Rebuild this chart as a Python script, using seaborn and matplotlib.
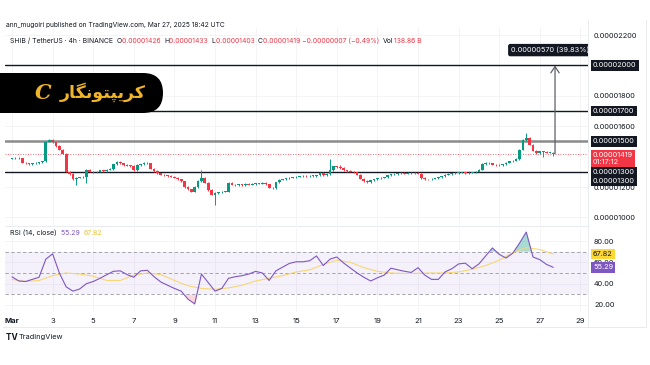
import matplotlib
matplotlib.use('Agg')
import matplotlib.pyplot as plt
import matplotlib.dates as mdates
from matplotlib.patches import FancyBboxPatch
from matplotlib.transforms import IdentityTransform
import seaborn as sns
import pandas as pd
import numpy as np

# SHIB / USDT, 4h candles from Mar 1 00:00, prices in units of 1e-8 USDT
closes = [
    1390, 1392, 1388, 1360, 1355, 1352,
    1356, 1358, 1362, 1370, 1498, 1510,
    1495, 1470, 1445, 1420, 1300, 1285,
    1250, 1262, 1265, 1268, 1312, 1300,
    1296, 1300, 1310, 1305, 1314, 1318,
    1350, 1365, 1355, 1345, 1340, 1338,
    1312, 1345, 1350, 1360, 1356, 1320,
    1305, 1290, 1282, 1278, 1272, 1268,
    1262, 1250, 1238, 1200, 1185, 1168,
    1200, 1240, 1262, 1228, 1180, 1150,
    1160, 1165, 1170, 1168, 1226, 1215,
    1212, 1218, 1210, 1222, 1215, 1220,
    1224, 1222, 1226, 1218, 1195, 1192,
    1230, 1248, 1252, 1258, 1262, 1265,
    1268, 1270, 1272, 1270, 1274, 1272,
    1278, 1292, 1278, 1286, 1312, 1335,
    1330, 1325, 1310, 1305, 1302, 1298,
    1280, 1255, 1240, 1232, 1245, 1252,
    1258, 1262, 1265, 1278, 1284, 1286,
    1290, 1292, 1288, 1294, 1290, 1292,
    1288, 1260, 1252, 1250, 1256, 1258,
    1264, 1270, 1282, 1286, 1290, 1292,
    1294, 1296, 1290, 1295, 1298, 1300,
    1315, 1352, 1358, 1355, 1348, 1342,
    1345, 1350, 1360, 1368, 1372, 1385,
    1445, 1510, 1522, 1478, 1440, 1424,
    1436, 1432, 1426, 1426, 1419,
]
first_open = 1386
wick_highs = {11: 1518, 12: 1515, 56: 1312, 94: 1384, 97: 1345, 152: 1555, 160: 1433}
wick_lows = {19: 1213, 22: 1226, 60: 1081, 157: 1398, 160: 1403}

# RSI(14) every 8h and its moving average every 16h
rsi_values = [
    46.4, 42.5, 42, 44, 46, 63, 68, 50, 37, 33,
    35, 40, 42, 45, 48.4, 51.6, 52, 48.5, 46, 52,
    52.5, 46.5, 41.5, 38.5, 35.5, 33, 25.5, 21, 49, 41,
    33, 35.5, 45, 46.5, 47.5, 49, 51.5, 50, 43, 52,
    55.5, 59, 60.5, 60.5, 61.5, 66, 57, 63, 65, 59.4,
    54.7, 50, 46, 42.5, 45.5, 48, 54.5, 53, 51.6, 50.5,
    55, 48, 44, 44, 51, 54, 58.5, 59.2, 54, 58.5,
    66, 73.5, 67.5, 64, 68.5, 78, 88.4, 65, 62.5, 58, 55.29,
]
rsi_ma_values = [
    44, 42, 43, 47.5, 50, 49, 47, 43, 43, 48,
    50, 48.5, 43, 38, 35.5, 34.7, 36, 38.5, 42.5, 45,
    47.5, 51, 53, 58, 62, 60, 55, 51.5, 50, 49.5,
    49.7, 50, 50, 51, 53.5, 57, 62, 69, 73.8, 72, 67.82,
]

level_lines = [2000, 1700, 1500, 1300]
last_price = 1419
price_ticks = [1000, 1200, 1600, 1800, 2200]
rsi_ticks = [20, 40, 60, 80]
x_tick_days = list(range(1, 30, 2))
x_tick_labels = ['Mar'] + [str(d) for d in x_tick_days[1:]]

GREEN = '#089981'
RED = '#F23645'
DARK = '#131722'
PURPLE = '#7E57C2'
GOLD = '#F0B429'
W, H = 650, 365

sns.set_style('white')
plt.rcParams['font.family'] = ['Inter', 'DejaVu Sans']

fig = plt.figure(figsize=(6.5, 3.65), dpi=100)
ax = fig.add_axes([5 / W, 1 - 225 / H, 583 / W, 198 / H])
ax2 = fig.add_axes([5 / W, 1 - 312 / H, 583 / W, 84 / H], sharex=ax)

times = pd.date_range('2025-03-01 00:00', periods=len(closes), freq='4h')
t = mdates.date2num(times.to_pydatetime())
t0 = mdates.date2num(pd.Timestamp('2025-03-01').to_pydatetime())
ax.set_xlim(t0 + (5 - 12) / 20.3, t0 + (588 - 12) / 20.3)

# candles
opens = [first_open] + closes[:-1]
cols, bottoms, heights, highs, lows = [], [], [], [], []
for i, (o, c) in enumerate(zip(opens, closes)):
    cols.append(GREEN if c >= o else RED)
    bottoms.append(min(o, c))
    heights.append(max(abs(c - o), 4))
    highs.append(wick_highs.get(i, max(o, c) + 4))
    lows.append(wick_lows.get(i, min(o, c) - 4))
ax.vlines(t, lows, highs, colors=cols, lw=0.7, zorder=3)
ax.bar(t, heights, bottom=bottoms, width=0.135, color=cols, lw=0, zorder=4)

# horizontal levels
for lvl in level_lines:
    if lvl == 1500:
        ax.axhline(lvl, color='#8a8a8a', lw=1.8, zorder=2)
    else:
        ax.axhline(lvl, color=DARK, lw=1.0, zorder=2)
ax.axhline(last_price, color=RED, lw=0.6, ls=(0, (1, 2)), zorder=2)

# measure arrow
t_arrow = mdates.date2num((times[-1] + pd.Timedelta('2h')).to_pydatetime())
ax.annotate('', xy=(t_arrow, 2000), xytext=(t_arrow, last_price),
            arrowprops=dict(arrowstyle='->,head_length=0.45,head_width=0.3',
                            color='#5d606b', lw=0.9, shrinkA=0, shrinkB=0), zorder=5)
t_lbl = mdates.date2num(pd.Timestamp('2025-03-25 14:00').to_pydatetime())
ax.text(t_lbl, 2101, '0.00000570 (39.83%) 570', fontsize=5.3, color='white',
        ha='left', va='center', clip_on=True, zorder=6,
        bbox=dict(boxstyle='round,pad=0.4,rounding_size=0.3', fc=DARK, ec='none'))

ax.set_ylim(950, 2253)
ax.yaxis.tick_right()
ax.set_yticks(price_ticks)
ax.set_yticklabels([f'{v / 1e8:.8f}' for v in price_ticks])
ax.tick_params(axis='y', length=0, pad=4.3, labelsize=5.3, labelcolor=DARK)
ax.tick_params(axis='x', length=0, labelbottom=False)
ax.grid(color='#f2f3f6', lw=0.6)
for s in ax.spines.values():
    s.set_visible(False)

yt = ax.get_yaxis_transform()
box_x = 1.0086
for lvl, pos in [(2000, 2000), (1700, 1700), (1500, 1500), (1300, 1300), (1300, 1240)]:
    ax.text(box_x, pos, f'{lvl / 1e8:.8f}', transform=yt, ha='left', va='center',
            fontsize=5.3, color='white', zorder=7,
            bbox=dict(boxstyle='square,pad=0.3', fc=DARK, ec='none'))
ax.text(box_x, 1386, f'{last_price / 1e8:.8f}\n01:17:12', transform=yt, ha='left',
        va='center', fontsize=5.3, color='white', linespacing=1.15, zorder=7,
        bbox=dict(boxstyle='square,pad=0.3', fc=RED, ec='none'))

# RSI pane
rsi_t = mdates.date2num(pd.date_range('2025-03-01', periods=len(rsi_values), freq='8h').to_pydatetime())
ma_t = mdates.date2num(pd.date_range('2025-03-01', periods=len(rsi_ma_values), freq='16h').to_pydatetime())
rsi = np.array(rsi_values)
ax2.axhspan(30, 70, color=PURPLE, alpha=0.08, lw=0)
for lvl in (70, 50, 30):
    ax2.axhline(lvl, color='#9598A1', lw=0.6, ls=(0, (4, 3)))
ax2.fill_between(rsi_t, rsi, 70, where=rsi > 70, interpolate=True, color=GREEN, alpha=0.35, lw=0)
ax2.fill_between(rsi_t, rsi, 30, where=rsi < 30, interpolate=True, color=RED, alpha=0.2, lw=0)
sns.lineplot(x=ma_t, y=rsi_ma_values, ax=ax2, color='#F7D774', lw=0.8)
sns.lineplot(x=rsi_t, y=rsi_values, ax=ax2, color=PURPLE, lw=0.8)
ax2.set_ylim(13.4, 92.2)
ax2.yaxis.tick_right()
ax2.set_yticks(rsi_ticks)
ax2.set_yticklabels([f'{v:.2f}' for v in rsi_ticks])
ax2.tick_params(axis='y', length=0, pad=4.3, labelsize=5.3, labelcolor=DARK)
xt = [t0 + d - 1 for d in x_tick_days]
ax2.set_xticks(xt)
ax2.set_xticklabels(x_tick_labels)
ax2.tick_params(axis='x', length=0, pad=4, labelsize=5.5, labelcolor=DARK)
ax2.get_xticklabels()[0].set_fontweight('bold')
ax2.grid(color='#f2f3f6', lw=0.6)
ax2.set_xlabel('')
for s in ax2.spines.values():
    s.set_visible(False)
yt2 = ax2.get_yaxis_transform()
ax2.text(box_x, 67.82, '67.82', transform=yt2, ha='left', va='center', fontsize=5.3,
         color=DARK, zorder=7, bbox=dict(boxstyle='square,pad=0.3', fc='#FDD835', ec='none'))
ax2.text(box_x, 55.29, '55.29', transform=yt2, ha='left', va='center', fontsize=5.3,
         color='white', zorder=7, bbox=dict(boxstyle='square,pad=0.3', fc=PURPLE, ec='none'))

# frame lines
for (x1, y1, x2, y2) in [(588, 20, 588, 327), (3, 327, 646, 327), (646, 20, 646, 327), (5, 226, 588, 226)]:
    fig.add_artist(plt.Line2D([x1 / W, x2 / W], [1 - y1 / H, 1 - y2 / H], color='#e6e8ee', lw=0.6))

renderer = fig.canvas.get_renderer()


def chain(x_px, y_px, parts, size, **kw):
    x = x_px
    for text, color in parts:
        tx = fig.text(x / W, 1 - y_px / H, text, color=color, fontsize=size,
                      ha='left', va='center', **kw)
        x += tx.get_window_extent(renderer).width


chain(6, 25, [('ann_mugoiri published on TradingView.com, Mar 27, 2025 18:42 UTC', DARK)], 4.8)
chain(10, 41, [('SHIB / TetherUS · 4h · BINANCE  ', DARK), ('O', DARK), ('0.00001426  ', RED),
               ('H', DARK), ('0.00001433  ', RED), ('L', DARK), ('0.00001403  ', RED),
               ('C', DARK), ('0.00001419 −0.00000007 (−0.49%)  ', RED),
               ('Vol', DARK), ('138.86 B', RED)], 4.9)
chain(10, 233, [('RSI (14, close)  ', DARK), ('55.29  ', PURPLE), ('67.82', '#E9C23B')], 5.0)
chain(6, 337, [('TV ', DARK)], 6, fontweight='bold')
chain(19, 337, [('TradingView', DARK)], 5.3)

# logo badge
badge = FancyBboxPatch((-30, H - 113), 193, 40, boxstyle='round,pad=0,rounding_size=20',
                       transform=IdentityTransform(), fc='black', ec='none', zorder=10)
fig.add_artist(badge)
fig.text(43 / W, 1 - 93 / H, 'C', fontsize=15, color=GOLD, fontweight='bold', style='italic',
         family=['DejaVu Serif'], ha='center', va='center', zorder=11)
persian = '\uFEAD\uFE8E\uFB95\uFEE7\uFEEE\uFE98\uFB59\uFBFE\uFEAE\uFB90'
fig.text(103 / W, 1 - 92 / H, persian, fontsize=12.5, color=GOLD, fontweight='bold',
         family=['DejaVu Sans'], ha='center', va='center', zorder=11)

fig.savefig('out.png', dpi=100)
